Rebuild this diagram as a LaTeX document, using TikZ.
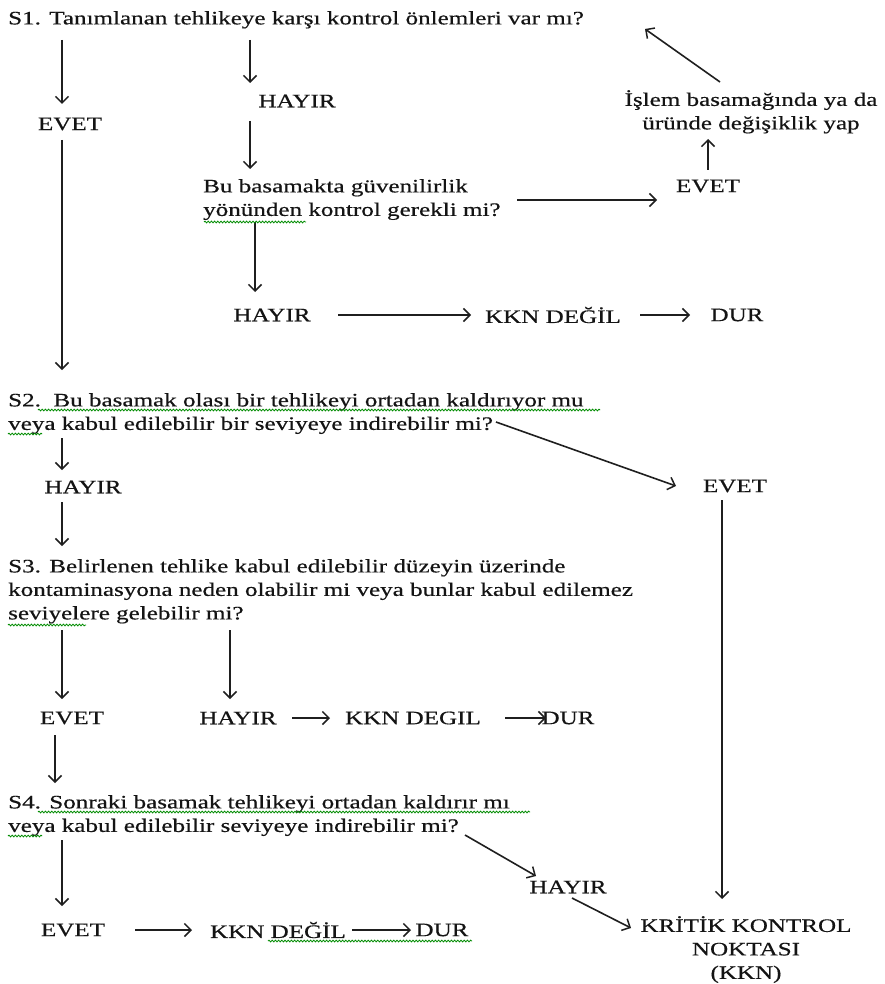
\documentclass[tikz,border=0pt]{standalone}
\usepackage{fontspec}
\setmainfont{Liberation Serif}[FakeStretch=1.32, FakeBold=0.5]
\usetikzlibrary{arrows.meta,decorations.pathmorphing}

\tikzset{
  txt/.style={font=\fontsize{19}{23.5}\selectfont, inner sep=0pt, text=black!92},
  lft/.style={txt, anchor=north west, align=left},
  ctr/.style={txt, align=center},
  arr/.style={draw=black!88, line width=1.6pt,
    -{Straight Barb[length=6.5pt,width=13pt,line width=1.5pt]}},
  squig/.style={draw=green!55!black, line width=0.8pt, decorate,
    decoration={snake, amplitude=0.9pt, segment length=3.2pt}},
}

\begin{document}
\begin{tikzpicture}[x=1pt,y=-1pt]
\useasboundingbox[fill=white] (0,0) rectangle (884,984);

% ---------- step 1 ----------
\node[lft] (s1) at (8,11) {S1. Tanımlanan tehlikeye karşı kontrol önlemleri var mı?};
\node[txt] (evet1)  at (70,124)  {EVET};
\node[txt] (hayir1) at (297,101) {HAYIR};
\node[lft] (q1) at (203,179) {Bu basamakta güvenilirlik\\yönünden kontrol gerekli mi?};
\node[txt] (evet2)  at (708,186) {EVET};
\node[ctr, anchor=north] (islem) at (751,90) {İşlem basamağında ya da\\üründe değişiklik yap};
\node[txt] (hayir2) at (272,315) {HAYIR};
\node[txt] (kkn1)   at (553,315) {KKN DEĞİL};
\node[txt] (dur1)   at (737,315) {DUR};

% ---------- step 2 ----------
\node[lft] (s2) at (8,393) {S2.\ \ Bu basamak olası bir tehlikeyi ortadan kaldırıyor mu\\veya kabul edilebilir bir seviyeye indirebilir mi?};
\node[txt] (hayir3) at (83,487)  {HAYIR};
\node[txt] (evet3)  at (735,486) {EVET};

% ---------- step 3 ----------
\node[lft] (s3) at (8,559) {S3. Belirlenen tehlike kabul edilebilir düzeyin üzerinde\\kontaminasyona neden olabilir mi veya bunlar kabul edilemez\\seviyelere gelebilir mi?};
\node[txt] (evet4)  at (72,718)  {EVET};
\node[txt] (hayir4) at (238,718) {HAYIR};
\node[txt] (kkn2)   at (413,718) {KKN DEGIL};
\node[txt] (dur2)   at (568,718) {DUR};

% ---------- step 4 ----------
\node[lft] (s4) at (8,795) {S4. Sonraki basamak tehlikeyi ortadan kaldırır mı\\veya kabul edilebilir seviyeye indirebilir mi?};
\node[txt] (hayir5) at (568,887) {HAYIR};
\node[txt] (evet5)  at (73,930)  {EVET};
\node[txt] (kkn3)   at (278,930) {KKN DEĞİL};
\node[txt] (dur3)   at (442,930) {DUR};
\node[ctr, anchor=north] (kkn) at (746,916) {KRİTİK KONTROL\\NOKTASI\\(KKN)};

% ---------- connector end points ----------
\coordinate (a1) at (62,40);   \coordinate (b1) at (62,104);
\coordinate (a2) at (250,40);  \coordinate (b2) at (250,83);
\coordinate (a3) at (250,121); \coordinate (b3) at (250,169);
\coordinate (a4) at (517,200); \coordinate (b4) at (657,200);
\coordinate (a5) at (708,170); \coordinate (b5) at (708,139);
\coordinate (a6) at (720,82);  \coordinate (b6) at (645,29);
\coordinate (a7) at (255,222); \coordinate (b7) at (255,292);
\coordinate (a8) at (338,315); \coordinate (b8) at (471,315);
\coordinate (a9) at (640,315); \coordinate (b9) at (690,315);
\coordinate (a10) at (62,140); \coordinate (b10) at (62,370);
\coordinate (a11) at (496,422);\coordinate (b11) at (676,486);
\coordinate (a12) at (62,438); \coordinate (b12) at (62,470);
\coordinate (a13) at (62,502); \coordinate (b13) at (62,546);
\coordinate (a14) at (62,630); \coordinate (b14) at (62,699);
\coordinate (a15) at (230,630);\coordinate (b15) at (230,699);
\coordinate (a16) at (292,718);\coordinate (b16) at (330,718);
\coordinate (a17) at (505,718);\coordinate (b17) at (546,718);
\coordinate (a18) at (55,735); \coordinate (b18) at (55,783);
\coordinate (a19) at (62,840); \coordinate (b19) at (62,906);
\coordinate (a20) at (135,930);\coordinate (b20) at (192,930);
\coordinate (a21) at (352,930);\coordinate (b21) at (411,930);
\coordinate (a22) at (465,835);\coordinate (b22) at (536,876);
\coordinate (a23) at (572,898);\coordinate (b23) at (631,928);
\coordinate (a24) at (722,500);\coordinate (b24) at (722,899);

% ---------- connectors ----------
\foreach \i in {1,...,24} \draw[arr] (a\i) -- (b\i);

% ---------- spelling marks ----------
\draw[squig] (204,222) -- (306,222);
\draw[squig] (38,410) -- (600,410);
\draw[squig] (8,434) -- (42,434);
\draw[squig] (8,625) -- (86,625);
\draw[squig] (38,812) -- (530,812);
\draw[squig] (8,836) -- (42,836);
\draw[squig] (268,941) -- (472,941);
\end{tikzpicture}
\end{document}
